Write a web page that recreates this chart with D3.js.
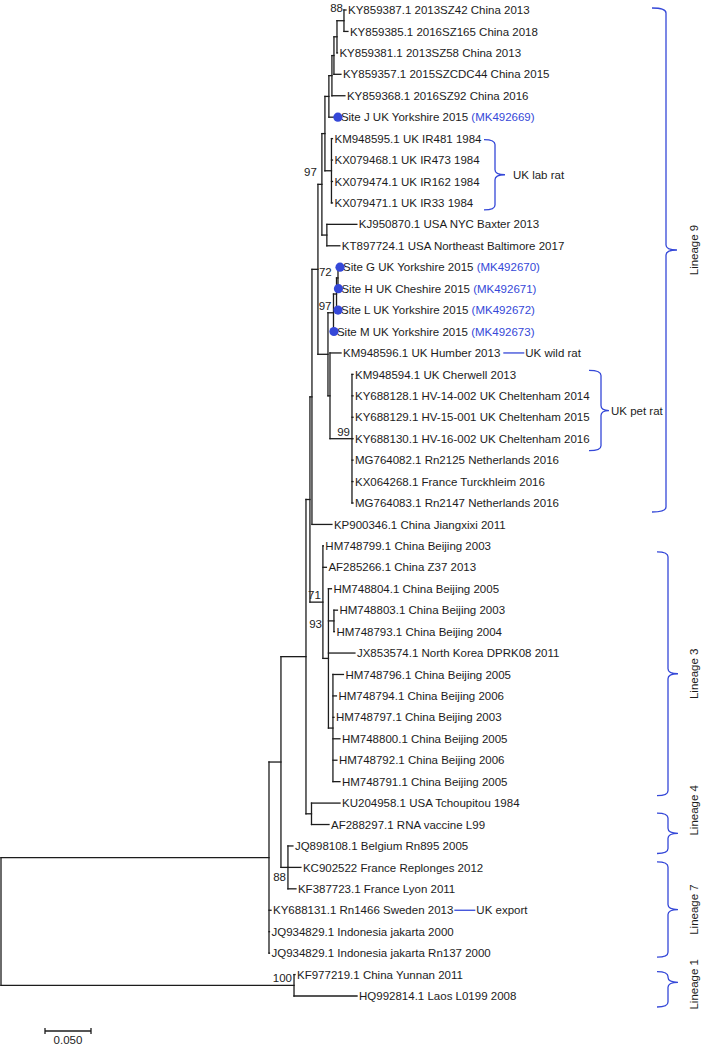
<!DOCTYPE html>
<html><head><meta charset="utf-8">
<script src="https://cdn.jsdelivr.net/npm/d3@7"></script>
<style>body{margin:0;background:#fff}text{font-family:"Liberation Sans",Arial,sans-serif}</style>
</head><body><svg id="c" width="702" height="1045"></svg>
<script>
// ---------- DATA ----------
const leafLabels = [
 "KY859387.1 2013SZ42 China 2013","KY859385.1 2016SZ165 China 2018","KY859381.1 2013SZ58 China 2013",
 "KY859357.1 2015SZCDC44 China 2015","KY859368.1 2016SZ92 China 2016","Site J UK Yorkshire 2015",
 "KM948595.1 UK IR481 1984","KX079468.1 UK IR473 1984","KX079474.1 UK IR162 1984","KX079471.1 UK IR33 1984",
 "KJ950870.1 USA NYC Baxter 2013","KT897724.1 USA Northeast Baltimore 2017",
 "Site G UK Yorkshire 2015","Site H UK Cheshire 2015","Site L UK Yorkshire 2015","Site M UK Yorkshire 2015",
 "KM948596.1 UK Humber 2013","KM948594.1 UK Cherwell 2013","KY688128.1 HV-14-002 UK Cheltenham 2014",
 "KY688129.1 HV-15-001 UK Cheltenham 2015","KY688130.1 HV-16-002 UK Cheltenham 2016",
 "MG764082.1 Rn2125 Netherlands 2016","KX064268.1 France Turckhleim 2016","MG764083.1 Rn2147 Netherlands 2016",
 "KP900346.1 China Jiangxixi 2011","HM748799.1 China Beijing 2003","AF285266.1 China Z37 2013",
 "HM748804.1 China Beijing 2005","HM748803.1 China Beijing 2003","HM748793.1 China Beijing 2004",
 "JX853574.1 North Korea DPRK08 2011","HM748796.1 China Beijing 2005","HM748794.1 China Beijing 2006",
 "HM748797.1 China Beijing 2003","HM748800.1 China Beijing 2005","HM748792.1 China Beijing 2006",
 "HM748791.1 China Beijing 2005","KU204958.1 USA Tchoupitou 1984","AF288297.1 RNA vaccine L99",
 "JQ898108.1 Belgium Rn895 2005","KC902522 France Replonges 2012","KF387723.1 France Lyon 2011",
 "KY688131.1 Rn1466 Sweden 2013","JQ934829.1 Indonesia jakarta 2000","JQ934829.1 Indonesia jakarta Rn137 2000",
 "KF977219.1 China Yunnan 2011","HQ992814.1 Laos L0199 2008"
];
const siteLeaves = [5,12,13,14,15];
const siteAccessions = ["(MK492669)","(MK492670)","(MK492671)","(MK492672)","(MK492673)"];

// tree (preorder): node id, parent id, branch length (substitutions/site). Leaves are "t0".."t46"
const nodeId = ["root","A","B","C","D","U","V","Ttop","GHl","G","F","E","X","N88","t0","t1","t2","t3","t4","t5",
 "Hlab","t6","t7","t8","t9","USA","t10","t11",
 "S","Sites","GHL","GH","t12","t13","t14","t15","Q","t16","P99","t17","t18","t19","t20","t21","t22","t23",
 "t24","L3","t25","t26","N93","t27","N803","t28","t29","t30","W","t31","t32","t33","t34","t35","t36",
 "L4","t37","t38","L7","t39","t40","t41","t42","t43","t44","L1","t45","t46"];
const parentId = ["","root","A","B","C","D","U","V","Ttop","GHl","G","F","E","X","N88","N88","X","E","F","G",
 "GHl","Hlab","Hlab","Hlab","Hlab","Ttop","USA","USA",
 "V","S","Sites","GHL","GH","GH","GHL","Sites","S","Q","Q","P99","P99","P99","P99","P99","P99","P99",
 "U","D","L3","L3","L3","N93","N93","N803","N803","N93","N93","W","W","W","W","W","W",
 "C","L4","L4","B","L7","L7","L7","A","A","A","root","L1","L1"];
const branchLen = [0,0.2913,0.0130,0.0272,0.0043,0.0022,0.0065,0.0043,0.0033,0.0043,0.0033,0.0022,0.0033,0.0076,0.0022,0.0043,0.0005,0.0076,0.0141,0.0098,
 0.0071,0.0011,0.0011,0.0011,0.0011,0.0054,0.0326,0.0141,
 0.0109,0.0060,0.0033,0.0016,0.0022,0.0005,0.0016,0.0005,0.0022,0.0120,0.0239,0.0011,0.0011,0.0011,0.0011,0.0011,0.0011,0.0011,
 0.0217,0.0141,0.0005,0.0038,0.0060,0.0033,0.0060,0.0038,0.0005,0.0288,0.0049,0.0114,0.0038,0.0011,0.0076,0.0043,0.0076,
 0.0060,0.0310,0.0190,0.0076,0.0054,0.0141,0.0087,0.0022,0.0005,0.0005,0.3185,0.0011,0.0685];
const bootNodes = ["N88","Ttop","V","Sites","P99","L3","N93","L7","L1"];
const bootValues = [88,97,72,97,99,71,93,88,100];

// clade annotations
const groupNames = ["UK lab rat","UK pet rat"];
const groupLeaves = [[6,9],[17,20]];
const lineageNames = ["Lineage 9","Lineage 3","Lineage 4","Lineage 7","Lineage 1"];
const lineageLeaves = [[0,23],[25,36],[37,38],[39,44],[45,46]];
const noteLeaves = [16,42];
const noteTexts = ["UK wild rat","UK export"];
const scaleBarValue = 0.05;

// ---------- LAYOUT / STYLE ----------
const svg = d3.select("#c");
svg.append("rect").attr("width",702).attr("height",1045).attr("fill","#fff");
const blue = "#3548d8", ink = "#1c1c1c", FS = "11.5px";
const rows = nodeId.map((id,i)=>({id, parent:parentId[i]||null, len:branchLen[i]}));
const root = d3.stratify().id(d=>d.id).parentId(d=>d.parent)(rows);
const x = d3.scaleLinear().domain([0, scaleBarValue]).range([1, 47]);
const y = d3.scaleLinear().domain([0, leafLabels.length-1]).range([10, 996]);
root.eachBefore(n=>{ n.dist = n.parent ? n.parent.dist + n.data.len : 0; });
root.eachAfter(n=>{
  n.py = n.children ? (n.children[0].py + n.children[n.children.length-1].py)/2 : y(+n.id.slice(1));
});
root.each(n=>{ n.px = x(n.dist); });

const g = svg.append("g").attr("stroke",ink).attr("stroke-width",1.3).attr("fill","none").attr("stroke-linecap","square");
root.descendants().forEach(n=>{
  if(n.parent) g.append("line").attr("x1",n.parent.px).attr("x2",n.px).attr("y1",n.py).attr("y2",n.py);
  if(n.children) g.append("line").attr("x1",n.px).attr("x2",n.px)
     .attr("y1",n.children[0].py).attr("y2",n.children[n.children.length-1].py);
});

const labelEnd = {};
const lbl = svg.append("g").attr("font-size",FS).attr("fill",ink);
root.leaves().forEach(n=>{
  const i = +n.id.slice(1);
  const si = siteLeaves.indexOf(i);
  if(si>=0) svg.append("circle").attr("cx",n.px).attr("cy",n.py).attr("r",4.6).attr("fill",blue);
  const t = lbl.append("text").attr("x",n.px+(si>=0?3:2)).attr("y",n.py).attr("dy","0.36em");
  t.append("tspan").text(leafLabels[i]);
  if(si>=0) t.append("tspan").attr("fill",blue).text(" "+siteAccessions[si]);
  labelEnd[i] = n.px + 2 + t.node().getComputedTextLength();
});

// bootstrap values (placement offsets are layout only)
const place = {V:[1,7,"start"], L7:[-2,14,"end"], N93:[-6.5,-30,"end"], Ttop:[-5,-8,"end"], N88:[-1,-9,"end"]};
const bl = svg.append("g").attr("font-size",FS).attr("fill",ink);
bootNodes.forEach((id,k)=>{
  const n = root.find(d=>d.id===id);
  const p = place[id] || [-2,-3,"end"];
  bl.append("text").attr("x",n.px+p[0]).attr("y",n.py+p[1]).attr("text-anchor",p[2]).text(bootValues[k]);
});

// braces
function brace(xl,xs,xt,y1,y2,ym){
  const r=5;
  return `M${xl},${y1} Q${xs},${y1} ${xs},${y1+r} L${xs},${ym-r} Q${xs},${ym} ${xt},${ym} Q${xs},${ym} ${xs},${ym+r} L${xs},${y2-r} Q${xs},${y2} ${xl},${y2}`;
}
const ann = svg.append("g").attr("stroke",blue).attr("stroke-width",1.3).attr("fill","none");
const annT = svg.append("g").attr("font-size",FS).attr("fill",ink);
// group braces: [xl, xs, xt, dyTop, dyBottom, tipShift, textX]
const groupStyle = [[484,495,505,1,7,0,513],[589,601,609,-4,12,0,611]];
groupNames.forEach((nm,k)=>{
  const [a,b]=groupLeaves[k], s=groupStyle[k];
  const y1=y(a)+s[3], y2=y(b)+s[4], ym=(y1+y2)/2+s[5];
  ann.append("path").attr("d",brace(s[0],s[1],s[2],y1,y2,ym));
  annT.append("text").attr("x",s[6]).attr("y",ym).attr("dy","0.36em").text(nm);
});
noteLeaves.forEach((i,k)=>{
  const e = labelEnd[i], gap = k===0 ? 3 : 1;
  ann.append("line").attr("x1",e+gap).attr("x2",e+gap+21).attr("y1",y(i)).attr("y2",y(i));
  annT.append("text").attr("x",e+gap+22).attr("y",y(i)).attr("dy","0.36em").text(noteTexts[k]);
});
// lineage braces: [xl, xs, xt, dyTop, dyBottom, tipShift, labelShift]
const linStyle = [[652,666,677,-2,9,-10,-10],[657,668,678,6,14,0,0],[657,668,678,10,29,0,-23],
                  [657,668,678,16,4,0,0],[657,668,678,-3,11,-7,-5]];
lineageNames.forEach((nm,k)=>{
  const [a,b]=lineageLeaves[k], s=linStyle[k];
  const y1=y(a)+s[3], y2=y(b)+s[4], mid=(y1+y2)/2;
  ann.append("path").attr("d",brace(s[0],s[1],s[2],y1,y2,mid+s[5]));
  annT.append("text").attr("transform",`translate(698,${mid+s[6]}) rotate(-90)`)
     .attr("text-anchor","middle").text(nm);
});

// scale bar
const sb = svg.append("g").attr("stroke",ink).attr("stroke-width",1.3);
const sx0=45, sx1=sx0 + (x(scaleBarValue)-x(0));
sb.append("line").attr("x1",sx0).attr("x2",sx1).attr("y1",1031).attr("y2",1031);
sb.append("line").attr("x1",sx0).attr("x2",sx0).attr("y1",1028).attr("y2",1034);
sb.append("line").attr("x1",sx1).attr("x2",sx1).attr("y1",1028).attr("y2",1034);
svg.append("text").attr("x",(sx0+sx1)/2).attr("y",1044).attr("text-anchor","middle")
   .attr("font-size",FS).attr("fill",ink).text(d3.format(".3f")(scaleBarValue));
</script></body></html>
